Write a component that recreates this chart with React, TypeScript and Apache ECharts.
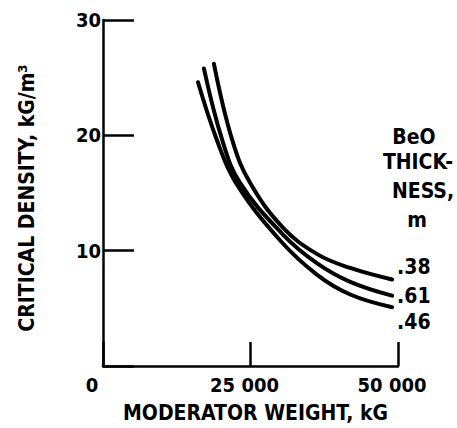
import React, { useEffect, useRef } from 'react';
import * as echarts from 'echarts';

const xTicks = [0, 25000, 50000];
const yTicks = [0, 10, 20, 30];
const thicknessLabels = ['.38', '.61', '.46'];
const legendTitle = ['BeO', 'THICK-', 'NESS,', 'm'];

const weight38 = [18800, 21900, 24900, 30500, 36300, 41900, 49000];
const density38 = [26.2, 19.6, 15.9, 12.0, 9.7, 8.5, 7.5];
const weight61 = [17100, 20200, 23200, 30500, 36300, 41900, 49000];
const density61 = [25.8, 19.6, 15.9, 11.4, 8.9, 7.3, 6.1];
const weight46 = [16100, 19300, 22500, 30000, 36300, 41900, 49000];
const density46 = [24.6, 19.6, 15.9, 10.9, 7.9, 6.2, 5.1];

const FONT = "'DejaVu Sans Condensed', 'Liberation Sans Narrow', 'Liberation Sans', sans-serif";
const INK = '#000';
const WEIGHT = 'bold';

function pairs(xs: number[], ys: number[]) {
  return xs.map((x, i) => [x, ys[i]]);
}

export default function App() {
  const ref = useRef<HTMLDivElement>(null);
  useEffect(() => {
    if (!ref.current) return;
    const chart = echarts.init(ref.current, undefined, { renderer: 'svg' });
    const seriesData = [
      { name: thicknessLabels[0], data: pairs(weight38, density38), offset: [0, -13] },
      { name: thicknessLabels[1], data: pairs(weight61, density61), offset: [0, 0] },
      { name: thicknessLabels[2], data: pairs(weight46, density46), offset: [0, 15] },
    ];
    const legendY = [137, 162, 191, 220];
    const legendX = [414, 418, 423, 417];
    const tickFont = { fontFamily: FONT, fontSize: 20, fontWeight: WEIGHT, color: INK };
    chart.setOption({
      animation: false,
      backgroundColor: '#fff',
      textStyle: { fontFamily: FONT, color: INK },
      grid: { left: 103, right: 59, top: 20, bottom: 62, containLabel: false },
      xAxis: {
        type: 'value',
        min: xTicks[0],
        max: xTicks[xTicks.length - 1],
        interval: xTicks[1] - xTicks[0],
        name: 'MODERATOR WEIGHT, kG',
        nameLocation: 'middle',
        nameGap: 36,
        nameTextStyle: { fontFamily: FONT, fontSize: 21, fontWeight: WEIGHT, color: INK, padding: [0, 0, 0, 10] },
        axisLine: { show: true, lineStyle: { color: INK, width: 2.5 } },
        axisTick: { show: true, inside: true, length: 24, lineStyle: { color: INK, width: 2.5 } },
        splitLine: { show: false },
        axisLabel: {
          margin: 9,
          ...tickFont,
          formatter: (v: number) =>
            v === 0 ? '{z|0}' : '{n|' + String(v).replace(/\B(?=(\d{3})+(?!\d))/g, ' ') + '}',
          rich: {
            z: { ...tickFont, padding: [0, 22, 0, 0] },
            n: { ...tickFont, padding: [0, 12, 0, 0] },
          },
        },
      },
      yAxis: {
        type: 'value',
        min: yTicks[0],
        max: yTicks[yTicks.length - 1],
        interval: yTicks[1] - yTicks[0],
        name: 'CRITICAL DENSITY, kG/m³',
        nameLocation: 'middle',
        nameGap: 66,
        nameTextStyle: { fontFamily: FONT, fontSize: 21, fontWeight: WEIGHT, color: INK, padding: [0, 10, 0, 0] },
        axisLine: { show: true, lineStyle: { color: INK, width: 2.5 } },
        axisTick: { show: true, inside: true, length: 31, lineStyle: { color: INK, width: 2.5 } },
        splitLine: { show: false },
        axisLabel: {
          margin: 2,
          ...tickFont,
          formatter: (v: number) => (v === 0 ? '' : String(v)),
        },
      },
      series: seriesData.map((s) => ({
        type: 'line',
        name: s.name,
        data: s.data,
        smooth: 0.4,
        symbol: 'none',
        lineStyle: { color: INK, width: 4, cap: 'round' },
        endLabel: {
          show: true,
          formatter: s.name,
          distance: 5,
          offset: s.offset,
          fontFamily: FONT,
          fontSize: 21,
          fontWeight: WEIGHT,
          lineHeight: 24,
          color: INK,
        },
      })),
      graphic: legendTitle.map((t, i) => ({
        type: 'text',
        x: legendX[i],
        y: legendY[i],
        style: {
          text: t,
          fontFamily: FONT,
          fontSize: 21,
          fontWeight: WEIGHT,
          lineHeight: 24,
          fill: INK,
          align: 'center',
          verticalAlign: 'middle',
        },
      })),
    });
    return () => chart.dispose();
  }, []);
  return (
    <div
      ref={ref}
      style={{ position: 'fixed', left: 0, top: 0, width: 457, height: 428, background: '#fff' }}
    />
  );
}
